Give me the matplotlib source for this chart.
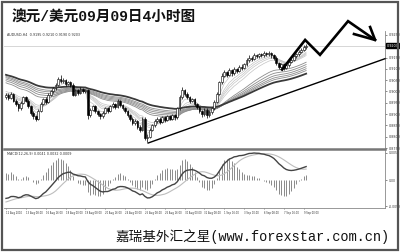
import matplotlib.pyplot as plt
import matplotlib.lines as mlines
import matplotlib.patches as mpatches
import numpy as np
import pandas as pd

# AUDUSD H4 bars, prices in pips (x 1e-4)
prior_close = [
    9080, 9095, 9110, 9100, 9120, 9135, 9130, 9145, 9150, 9140, 9160, 9170,
    9165, 9180, 9175, 9190, 9185, 9170, 9180, 9195, 9200, 9190, 9185, 9170,
    9160, 9175, 9185, 9200, 9210, 9205, 9190, 9180, 9170, 9185, 9175, 9160,
    9150, 9165, 9175, 9160, 9140, 9120, 9090, 9060, 9030, 9010, 8995, 8980,
    8990, 8970, 8960, 8975, 8990, 9000, 8985, 8970, 8980, 8995, 8985, 8975,
]
first_open = 8975
close_p = [
    8985, 8970, 8990, 8960, 8945, 8925, 8950, 8975, 8960, 8935, 8905, 8890,
    8880, 8915, 8945, 8965, 8955, 8985, 9000, 9015, 9030, 9055, 9045, 9050,
    9035, 9040, 9030, 8985, 9005, 8995, 9010, 9000, 9005, 8895, 8920, 8935,
    8915, 8900, 8890, 8905, 8925, 8915, 8935, 8945, 8930, 8960, 8940, 8925,
    8915, 8895, 8880, 8860, 8870, 8845, 8830, 8880, 8795, 8800, 8830, 8850,
    8870, 8880, 8865, 8885, 8875, 8890, 8880, 8895, 8885, 8925, 8975, 9005,
    8990, 8975, 8960, 8965, 8945, 8930, 8915, 8900, 8920, 8895, 8910, 8925,
    8955, 8990, 9040, 9070, 9085, 9075, 9095, 9080, 9100, 9090, 9110, 9105,
    9120, 9140, 9150, 9145, 9160, 9155, 9165, 9160, 9170, 9165, 9172, 9160,
    9150, 9125, 9110, 9120, 9105, 9115, 9130, 9140, 9155, 9165, 9175, 9185,
    9195, 9203,
]
high_p = [
    8995, 8992, 8997, 8994, 8968, 8950, 8958, 8982, 8980, 8965, 8940, 8912,
    8898, 8922, 8952, 8972, 8975, 8992, 9008, 9022, 9038, 9066, 9075, 9060,
    9056, 9048, 9046, 9036, 9012, 9010, 9018, 9016, 9012, 9010, 8928, 8942,
    8940, 8920, 8906, 8912, 8932, 8930, 8942, 8952, 8950, 8968, 8964, 8945,
    8930, 8920, 8900, 8886, 8878, 8874, 8850, 8886, 8886, 8812, 8838, 8858,
    8878, 8888, 8885, 8892, 8890, 8898, 8895, 8902, 8900, 8932, 8984, 9020,
    9012, 8996, 8980, 8972, 8970, 8950, 8936, 8920, 8928, 8925, 8918, 8932,
    8962, 8998, 9048, 9080, 9095, 9092, 9104, 9100, 9108, 9106, 9118, 9120,
    9128, 9148, 9160, 9158, 9168, 9166, 9172, 9171, 9178, 9175, 9180, 9176,
    9165, 9155, 9130, 9128, 9125, 9122, 9138, 9148, 9162, 9172, 9184, 9192,
    9204, 9210,
]
low_p = [
    8968, 8962, 8965, 8952, 8935, 8915, 8920, 8944, 8952, 8928, 8896, 8880,
    8868, 8875, 8908, 8938, 8946, 8950, 8978, 8994, 9008, 9025, 9038, 9036,
    9026, 9028, 9022, 8978, 8980, 8986, 8990, 8992, 8994, 8877, 8888, 8912,
    8906, 8890, 8878, 8884, 8900, 8906, 8910, 8928, 8922, 8926, 8932, 8916,
    8906, 8886, 8870, 8850, 8852, 8836, 8820, 8825, 8786, 8776, 8794, 8824,
    8844, 8862, 8856, 8860, 8866, 8870, 8872, 8875, 8876, 8880, 8918, 8968,
    8980, 8966, 8950, 8952, 8936, 8922, 8905, 8886, 8892, 8884, 8888, 8902,
    8918, 8948, 8984, 9032, 9062, 9066, 9068, 9070, 9074, 9082, 9084, 9096,
    9098, 9114, 9132, 9136, 9138, 9146, 9148, 9152, 9154, 9156, 9158, 9150,
    9140, 9116, 9098, 9102, 9096, 9098, 9108, 9124, 9134, 9148, 9158, 9168,
    9178, 9190,
]
date_labels = [
    "12 Aug 2010", "13 Aug 08:00", "16 Aug 16:00", "18 Aug 00:00",
    "19 Aug 08:00", "20 Aug 16:00", "24 Aug 00:00", "25 Aug 08:00",
    "26 Aug 16:00", "30 Aug 00:00", "31 Aug 08:00", "1 Sep 16:00",
    "3 Sep 00:00", "6 Sep 08:00", "7 Sep 16:00", "9 Sep 00:00",
]
price_ticks = [0.9250, 0.9150, 0.9100, 0.9050, 0.9000, 0.8950, 0.8900,
               0.8850, 0.8800, 0.8750]
short_spans = [3, 5, 8, 10, 12, 15]
long_spans = [30, 35, 40, 45, 50, 60]

# hand-drawn trend line and forecast arrow (bar index, price)
trend_line = [(57.3, 0.8772), (152.8, 0.9145)]
arrow_path = [(111.3, 0.9097), (120.6, 0.9228), (126.6, 0.9162),
              (137.9, 0.9311), (148.8, 0.9228)]
arrow_head = [(140.3, 0.9254), (148.8, 0.9228), (146.8, 0.9285)]

closes = np.array(close_p) / 1e4
highs = np.array(high_p) / 1e4
lows = np.array(low_p) / 1e4
opens = np.r_[first_open / 1e4, closes[:-1]]
x = np.arange(len(closes))
n_prior = len(prior_close)
full = pd.Series(np.r_[np.array(prior_close) / 1e4, closes])

W, H = 400, 252
fig = plt.figure(figsize=(W / 100, H / 100), dpi=100)
ax = fig.add_axes([4 / W, 1 - 148 / H, 381 / W, 117 / H])
axm = fig.add_axes([4 / W, 1 - 208 / H, 381 / W, 58 / H])

# --- price panel ---
for s in short_spans:
    ema = full.ewm(span=s, adjust=False).mean().values[n_prior:]
    ax.plot(x, ema, color="#c4c4c4", lw=0.5, zorder=1)
for s in long_spans:
    ema = full.ewm(span=s, adjust=False).mean().values[n_prior:]
    if s == long_spans[-1]:
        ax.plot(x, ema, color="#3a3a3a", lw=1.3, zorder=1.5)
    else:
        ax.plot(x, ema, color="#8c8c8c", lw=0.6, zorder=1.2)

up = closes >= opens
ax.vlines(x, lows, highs, color="black", lw=0.5, zorder=2)
ax.bar(x[up], closes[up] - opens[up], bottom=opens[up], width=0.7,
       color="white", edgecolor="black", linewidth=0.4, zorder=3)
ax.bar(x[~up], opens[~up] - closes[~up], bottom=closes[~up], width=0.7,
       color="black", edgecolor="black", linewidth=0.4, zorder=3)

last = closes[-1]
ax.axhline(last, color="#d0d0d0", lw=0.6, zorder=0.5)

tx, ty = zip(*trend_line)
ax.plot(tx, ty, color="black", lw=1.0, zorder=4, clip_on=False)
px_, py_ = zip(*arrow_path)
ax.plot(px_, py_, color="black", lw=1.9, zorder=5, clip_on=False,
        solid_joinstyle="miter")
hx, hy = zip(*arrow_head)
ax.plot(hx, hy, color="black", lw=1.9, zorder=5, clip_on=False)

ax.set_xlim(-0.8, 152.8)
ax.set_ylim(0.87544, 0.92675)
ax.yaxis.tick_right()
ax.set_yticks(price_ticks)
ax.set_yticklabels([f"{v:.4f}" for v in price_ticks])
ax.tick_params(axis="y", length=1.5, width=0.4, pad=1, labelsize=2.4,
               colors="#333333")
ax.set_xticks([])
for side in ["left", "top", "bottom"]:
    ax.spines[side].set_visible(False)
ax.spines["right"].set_color("#888888")
ax.spines["right"].set_linewidth(0.6)
ax.patch.set_visible(False)
ax.text(1.004, last, f"{last:.4f}", transform=ax.get_yaxis_transform(),
        fontsize=2.4, color="white", va="center", ha="left",
        bbox=dict(boxstyle="square,pad=0.25", fc="black", ec="black"))
ax.text(0.008, 0.985, "AUDUSD,H4  0.9195 0.9210 0.9190 0.9203",
        transform=ax.transAxes, fontsize=2.4, color="#333333", va="top")

# --- MACD panel ---
macd = (full.ewm(span=12, adjust=False).mean()
        - full.ewm(span=26, adjust=False).mean())
signal = macd.rolling(9).mean()
osma = (macd - signal) * 2
m = macd.values[n_prior:]
sg = signal.values[n_prior:]
hs = osma.values[n_prior:]
axm.vlines(x, 0, hs, color="#8a8a8a", lw=0.7)
axm.plot(x, sg, color="#bdbdbd", lw=0.8)
axm.plot(x, m, color="#444444", lw=1.0)
axm.set_xlim(-0.8, 152.8)
# zero line sits 30 px below the panel top, 28 px above its bottom
scale = np.nanmax(np.abs(m)) / 27
axm.set_ylim(-28 * scale, 30 * scale)
axm.yaxis.tick_right()
axm.set_yticks([27 * scale, 0, -26 * scale])
axm.set_yticklabels([f"{27 * scale:.4f}", "0.00", f"{-26 * scale:.4f}"])
axm.tick_params(axis="y", length=1.5, width=0.4, pad=1, labelsize=2.2,
                colors="#333333")
axm.set_xticks(x[::8])
axm.set_xticklabels(date_labels, ha="left")
axm.tick_params(axis="x", length=1, width=0.4, pad=1, labelsize=1.8,
                colors="#333333")
axm.spines["left"].set_visible(False)
axm.spines["top"].set_visible(False)
for side in ["right", "bottom"]:
    axm.spines[side].set_color("#888888")
    axm.spines[side].set_linewidth(0.6)
axm.patch.set_visible(False)
axm.text(0.008, 0.97, "MACD(12,26,9) 0.0041 0.0032 0.0009",
         transform=axm.transAxes, fontsize=2.4, color="#333333", va="top")

# panel separator and outer frame
fig.add_artist(mlines.Line2D([4 / W, 385 / W], [1 - 149 / H, 1 - 149 / H],
                             color="#777777", lw=1.8))
fig.add_artist(mpatches.Rectangle((0.004, 0.006), 0.992, 0.988,
                                  transform=fig.transFigure, fill=False,
                                  ec="#555555", lw=1.6))

fig.text(12 / W, 1 - 18 / H, "澳元/美元09月09日4小时图",
         family=["Liberation Mono", "Noto Sans CJK SC"], fontsize=10.5,
         fontweight="bold", va="center", ha="left", color="#111111")
fig.text(390 / W, 1 - 237 / H, "嘉瑞基外汇之星(www.forexstar.com.cn)",
         family=["Liberation Mono", "Noto Sans CJK SC"], fontsize=9.8,
         va="center", ha="right", color="#111111")

fig.savefig("out.png", dpi=100)
